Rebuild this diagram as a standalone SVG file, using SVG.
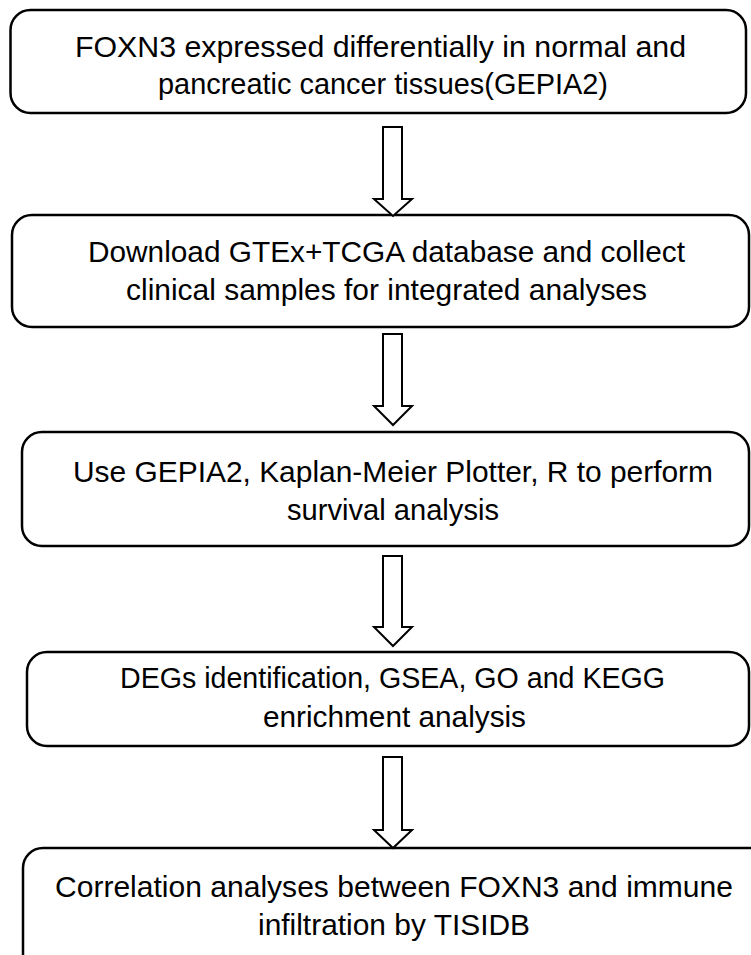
<svg xmlns="http://www.w3.org/2000/svg" width="751" height="955" viewBox="0 0 751 955">
<style>
.box{fill:#fff;stroke:#000;stroke-width:2.5}
.arr{fill:#fff;stroke:#000;stroke-width:2;stroke-linejoin:miter}
text{font-family:"Liberation Sans","Noto Sans",sans-serif;font-size:30px;fill:#000}
</style>
<rect width="751" height="955" fill="#fff"/>
<g id="n1">
<rect class="box" x="10.5" y="10" width="735.5" height="103" rx="20"/>
<text x="75" y="57" textLength="611" lengthAdjust="spacingAndGlyphs">FOXN3 expressed differentially in normal and</text>
<text x="158" y="94" textLength="450" lengthAdjust="spacingAndGlyphs">pancreatic cancer tissues(GEPIA2)</text>
</g>
<g id="n2">
<rect class="box" x="12" y="215" width="737" height="112" rx="20"/>
<text x="88" y="262" textLength="597" lengthAdjust="spacingAndGlyphs">Download GTEx+TCGA database and collect</text>
<text x="126" y="300" textLength="521" lengthAdjust="spacingAndGlyphs">clinical samples for integrated analyses</text>
</g>
<g id="n3">
<rect class="box" x="22" y="432" width="727" height="114" rx="20"/>
<text x="73" y="482" textLength="640" lengthAdjust="spacingAndGlyphs">Use GEPIA2, Kaplan-Meier Plotter, R to perform</text>
<text x="287" y="520" textLength="212" lengthAdjust="spacingAndGlyphs">survival analysis</text>
</g>
<g id="n4">
<rect class="box" x="27" y="652" width="722" height="94" rx="20"/>
<text x="120" y="688" textLength="545" lengthAdjust="spacingAndGlyphs">DEGs identification, GSEA, GO and KEGG</text>
<text x="263" y="727" textLength="263" lengthAdjust="spacingAndGlyphs">enrichment analysis</text>
</g>
<g id="n5">
<path class="box" d="M23,955 V868 A20,20 0 0 1 43,848 H751 V955 Z" style="stroke:none"/>
<path class="box" d="M23,955 V868 A20,20 0 0 1 43,848 H751" style="fill:none"/>
<text x="55" y="897" textLength="678" lengthAdjust="spacingAndGlyphs">Correlation analyses between FOXN3 and immune</text>
<text x="258" y="935" textLength="272" lengthAdjust="spacingAndGlyphs">infiltration by TISIDB</text>
</g>
<g id="connectors">
<path class="arr" d="M383,127 H402 V199 H412 L393,216 L374,199 H383 Z"/>
<path class="arr" d="M383,334 H402 V406 H412 L393,425 L374,406 H383 Z"/>
<path class="arr" d="M383,556 H402 V627 H412 L393,646 L374,627 H383 Z"/>
<path class="arr" d="M383,757 H402 V830 H412 L393,848 L374,830 H383 Z"/>
</g>
</svg>
